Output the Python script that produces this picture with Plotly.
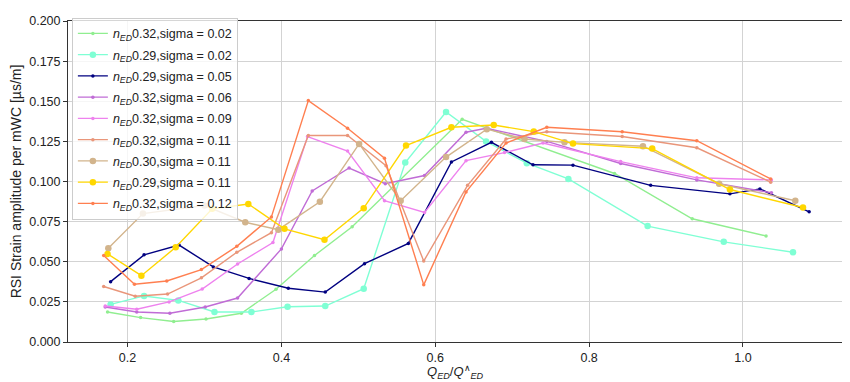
import plotly.graph_objects as go

# ---- data ----
names = [
    "<i>n</i><sub><i>ED</i></sub>0.32,sigma = 0.02",
    "<i>n</i><sub><i>ED</i></sub>0.29,sigma = 0.02",
    "<i>n</i><sub><i>ED</i></sub>0.29,sigma = 0.05",
    "<i>n</i><sub><i>ED</i></sub>0.32,sigma = 0.06",
    "<i>n</i><sub><i>ED</i></sub>0.32,sigma = 0.09",
    "<i>n</i><sub><i>ED</i></sub>0.32,sigma = 0.11",
    "<i>n</i><sub><i>ED</i></sub>0.30,sigma = 0.11",
    "<i>n</i><sub><i>ED</i></sub>0.29,sigma = 0.11",
    "<i>n</i><sub><i>ED</i></sub>0.32,sigma = 0.12",
]

x_032_002 = [0.174, 0.217, 0.260, 0.302, 0.348, 0.393, 0.443, 0.492, 0.635, 0.833, 0.934, 1.030]
y_032_002 = [0.0187, 0.0152, 0.0128, 0.0143, 0.0179, 0.0329, 0.0539, 0.0718, 0.1388, 0.1050, 0.0768, 0.0661]

x_029_002 = [0.178, 0.2215, 0.266, 0.313, 0.361, 0.408, 0.457, 0.507, 0.561, 0.614, 0.666, 0.719, 0.773, 0.876, 0.975, 1.065]
y_029_002 = [0.0234, 0.0287, 0.0259, 0.0187, 0.0187, 0.0220, 0.0224, 0.0332, 0.1118, 0.1433, 0.1250, 0.1114, 0.1016, 0.0722, 0.0624, 0.0559]

x_029_005 = [0.178, 0.2215, 0.267, 0.3115, 0.358, 0.409, 0.457, 0.508, 0.565, 0.621, 0.673, 0.727, 0.779, 0.880, 0.983, 1.022, 1.086]
y_029_005 = [0.0376, 0.0543, 0.0604, 0.0468, 0.0396, 0.0335, 0.0311, 0.0488, 0.0614, 0.1122, 0.1244, 0.1104, 0.1102, 0.0976, 0.0923, 0.0954, 0.0811]

x_032_006 = [0.171, 0.212, 0.255, 0.301, 0.343, 0.400, 0.440, 0.488, 0.535, 0.586, 0.640, 0.666, 0.745, 0.841, 0.940, 1.037]
y_032_006 = [0.0218, 0.0187, 0.0179, 0.0218, 0.0274, 0.0580, 0.0941, 0.1084, 0.0986, 0.1037, 0.1307, 0.1332, 0.1250, 0.1112, 0.1010, 0.0930]

x_032_009 = [0.171, 0.212, 0.254, 0.297, 0.343, 0.389, 0.434, 0.486, 0.534, 0.586, 0.640, 0.690, 0.740, 0.841, 0.940, 1.037]
y_032_009 = [0.0224, 0.0204, 0.0250, 0.0330, 0.0486, 0.0620, 0.1280, 0.1190, 0.0880, 0.0807, 0.1130, 0.1180, 0.1240, 0.1124, 0.1023, 0.1010]

x_032_011 = [0.169, 0.210, 0.252, 0.296, 0.342, 0.387, 0.435, 0.486, 0.536, 0.585, 0.642, 0.692, 0.745, 0.843, 0.940, 1.036]
y_032_011 = [0.0346, 0.0285, 0.0299, 0.0400, 0.0559, 0.0681, 0.1287, 0.1287, 0.1098, 0.0504, 0.0976, 0.1265, 0.1310, 0.1280, 0.1210, 0.0996]

x_030_011 = [0.175, 0.220, 0.300, 0.353, 0.396, 0.450, 0.501, 0.555, 0.614, 0.667, 0.716, 0.768, 0.870, 0.969, 1.068]
y_030_011 = [0.0584, 0.0800, 0.0850, 0.0746, 0.0700, 0.0874, 0.1234, 0.0880, 0.1152, 0.1326, 0.1265, 0.1244, 0.1220, 0.0986, 0.0880]

x_029_011 = [0.174, 0.218, 0.2626, 0.310, 0.357, 0.404, 0.456, 0.507, 0.562, 0.621, 0.676, 0.728, 0.779, 0.882, 0.983, 1.078]
y_029_011 = [0.0549, 0.0413, 0.0590, 0.0830, 0.0860, 0.0705, 0.0637, 0.0834, 0.1224, 0.1338, 0.1352, 0.1311, 0.1236, 0.1205, 0.0950, 0.0838]

x_032_012 = [0.169, 0.209, 0.251, 0.296, 0.342, 0.387, 0.435, 0.486, 0.534, 0.585, 0.640, 0.692, 0.745, 0.843, 0.940, 1.036]
y_032_012 = [0.0539, 0.0360, 0.0380, 0.0451, 0.0596, 0.0779, 0.1504, 0.1332, 0.1145, 0.0356, 0.0935, 0.1240, 0.1338, 0.1310, 0.1254, 0.1016]

x_ticks = [0.2, 0.4, 0.6, 0.8, 1.0]
y_ticks = [0.000, 0.025, 0.050, 0.075, 0.100, 0.125, 0.150, 0.175, 0.200]

series = [
    (x_032_002, y_032_002, "#90EE90", 3.5),
    (x_029_002, y_029_002, "#7FFFD4", 6.5),
    (x_029_005, y_029_005, "#000080", 3.5),
    (x_032_006, y_032_006, "#C06CD6", 3.5),
    (x_032_009, y_032_009, "#EE82EE", 3.5),
    (x_032_011, y_032_011, "#E9967A", 3.5),
    (x_030_011, y_030_011, "#D2B48C", 6.5),
    (x_029_011, y_029_011, "#FFD700", 6.5),
    (x_032_012, y_032_012, "#FF7F50", 3.5),
]

FONT = "Liberation Sans, Arial, sans-serif"

fig = go.Figure()
for i, (name, (xs, ys, col, ms)) in enumerate(zip(names, series)):
    fig.add_trace(go.Scatter(
        x=xs, y=ys, mode="lines+markers", name=name, legendgroup=f"g{i}",
        line=dict(color=col, width=1.4),
        marker=dict(color=col, size=ms),
    ))

axis_common = dict(
    showline=True, mirror=True, linecolor="#333333", linewidth=1,
    ticks="outside", ticklen=4, tickcolor="#333333",
    showgrid=True, gridcolor="#d3d3d3", gridwidth=1.3,
    zeroline=False, tickfont=dict(size=12.5, color="#222222", family=FONT),
)

# page body has an 8px margin, so the figure is 8px smaller and margins shifted
fig.update_layout(
    width=842, height=374,
    margin=dict(l=58, r=7, t=6, b=40),
    paper_bgcolor="white", plot_bgcolor="white",
    font=dict(family=FONT, size=12.5, color="#222222"),
    xaxis=dict(range=[0.1226, 1.130], tickvals=x_ticks, tickformat=".1f",
               **axis_common),
    yaxis=dict(range=[0, 0.2], tickvals=y_ticks, tickformat=".3f",
               title=dict(text="RSI Strain amplitude per mWC [µs/m]", standoff=5,
                          font=dict(size=14)),
               **axis_common),
    legend=dict(x=0.005, y=1.01, xanchor="left", yanchor="top", maxheight=330,
                bgcolor="rgba(255,255,255,0.8)", bordercolor="#cccccc", borderwidth=1,
                font=dict(size=12.5, family=FONT), tracegroupgap=2),
    showlegend=True,
    annotations=[dict(
        text="<i>Q</i><sub><i>ED</i></sub>/<i>Q</i><sup>∧</sup><sub><i>ED</i></sub>",
        xref="paper", yref="paper", x=0.5, y=-0.095, xanchor="center", yanchor="middle",
        showarrow=False, font=dict(size=13, family=FONT, color="#222222"),
    )],
)

fig.write_html("out.html")
